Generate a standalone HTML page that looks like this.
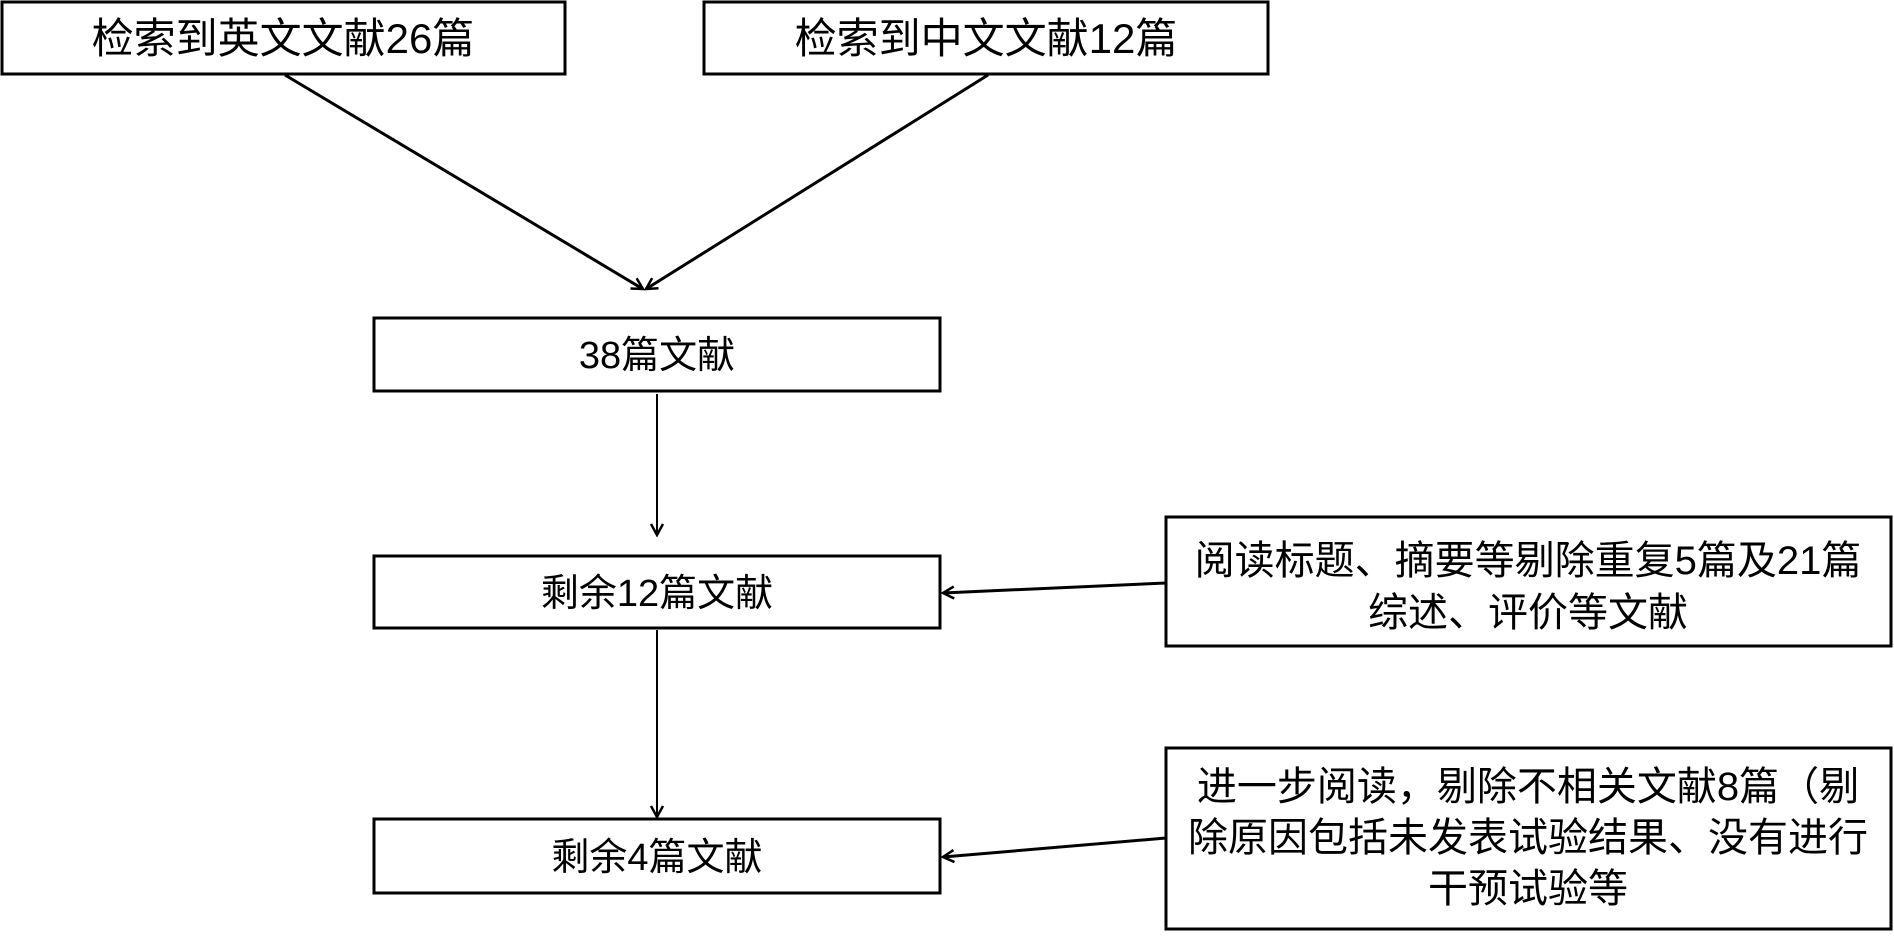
<!DOCTYPE html>
<html><head><meta charset="utf-8"><style>
html,body{margin:0;padding:0;background:#fff;}
svg text{font-family:"Liberation Sans","Noto Sans CJK SC",sans-serif;fill:#000;}
</style></head><body>
<svg width="1894" height="933" viewBox="0 0 1894 933" xmlns="http://www.w3.org/2000/svg">
<defs><marker id="a" markerWidth="14" markerHeight="14" refX="12" refY="7" orient="auto" markerUnits="userSpaceOnUse"><path d="M1,1 L12,7 L1,13" fill="none" stroke="#000" stroke-width="2.5"/></marker></defs>
<g fill="none" stroke="#000" stroke-width="3">
<rect x="2" y="2" width="563" height="72"/>
<rect x="704" y="2" width="564" height="72"/>
<rect x="374" y="318" width="566" height="73"/>
<rect x="374" y="556" width="566" height="72"/>
<rect x="374" y="819" width="566" height="74"/>
<rect x="1166" y="517" width="725" height="129"/>
<rect x="1166" y="748" width="725" height="181"/>
<line x1="285" y1="75" x2="643" y2="289" marker-end="url(#a)"/>
<line x1="988" y1="75" x2="646" y2="289" marker-end="url(#a)"/>
<line x1="657" y1="394" x2="657" y2="535" stroke-width="2" marker-end="url(#a)"/>
<line x1="657" y1="630" x2="657" y2="817" stroke-width="2" marker-end="url(#a)"/>
<line x1="1166" y1="583" x2="943" y2="593" marker-end="url(#a)"/>
<line x1="1166" y1="838" x2="943" y2="857" marker-end="url(#a)"/>
</g>
<g text-anchor="middle" font-size="42">
<text x="283" y="53">检索到英文文献26篇</text>
<text x="986" y="53">检索到中文文献12篇</text>
</g>
<g text-anchor="middle" font-size="38">
<text x="657" y="368">38篇文献</text>
<text x="657" y="606">剩余12篇文献</text>
<text x="657" y="870">剩余4篇文献</text>
</g>
<g text-anchor="middle" font-size="40">
<text x="1528" y="574">阅读标题、摘要等剔除重复5篇及21篇</text>
<text x="1528" y="626">综述、评价等文献</text>
<text x="1528" y="800">进一步阅读，剔除不相关文献8篇（剔</text>
<text x="1528" y="851">除原因包括未发表试验结果、没有进行</text>
<text x="1528" y="902">干预试验等</text>
</g>
</svg>
</body></html>
